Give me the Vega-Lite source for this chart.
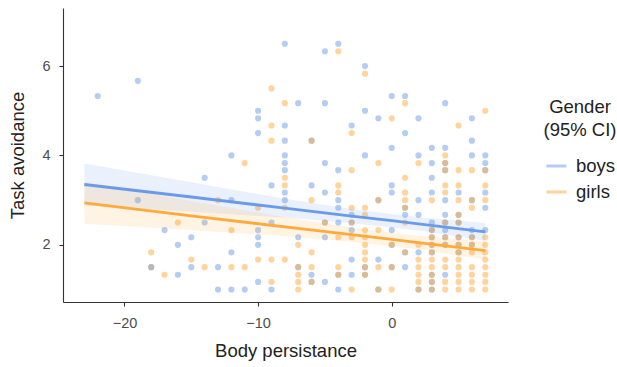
{
  "$schema": "https://vega.github.io/schema/vega-lite/v6.json",
  "width": 445,
  "height": 294,
  "autosize": "none",
  "padding": {"left": 63, "top": 8, "right": 109, "bottom": 65},
  "background": "white",
  "config": {
    "view": {"stroke": null},
    "font": "Liberation Sans",
    "axis": {
      "grid": false,
      "domainColor": "#333333",
      "domainWidth": 1.1,
      "tickColor": "#333333",
      "tickWidth": 1.1,
      "tickSize": 4,
      "labelColor": "#4d4d4d",
      "labelFontSize": 14.5,
      "labelFont": "Liberation Sans",
      "titleFont": "Liberation Sans",
      "titleFontSize": 18.5,
      "titleFontWeight": "normal",
      "titleColor": "#222222"
    }
  },
  "datasets": {
    "pts": [
      {"x": -22, "y": 5.33, "g": "boys"},
      {"x": -19, "y": 5.67, "g": "boys"},
      {"x": -19, "y": 3.0, "g": "boys"},
      {"x": -17, "y": 2.33, "g": "boys"},
      {"x": -16, "y": 2.0, "g": "boys"},
      {"x": -16, "y": 1.33, "g": "boys"},
      {"x": -15, "y": 2.17, "g": "boys"},
      {"x": -15, "y": 1.5, "g": "boys"},
      {"x": -14, "y": 3.5, "g": "boys"},
      {"x": -14, "y": 2.5, "g": "boys"},
      {"x": -13, "y": 1.5, "g": "boys"},
      {"x": -13, "y": 1.0, "g": "boys"},
      {"x": -12, "y": 4.0, "g": "boys"},
      {"x": -12, "y": 3.0, "g": "boys"},
      {"x": -12, "y": 1.83, "g": "boys"},
      {"x": -12, "y": 1.0, "g": "boys"},
      {"x": -11, "y": 1.0, "g": "boys"},
      {"x": -10, "y": 5.0, "g": "boys"},
      {"x": -10, "y": 4.83, "g": "boys"},
      {"x": -10, "y": 4.5, "g": "boys"},
      {"x": -10, "y": 2.33, "g": "boys"},
      {"x": -10, "y": 2.17, "g": "boys"},
      {"x": -10, "y": 2.0, "g": "boys"},
      {"x": -10, "y": 1.17, "g": "boys"},
      {"x": -9, "y": 3.33, "g": "boys"},
      {"x": -9, "y": 2.5, "g": "boys"},
      {"x": -9, "y": 1.0, "g": "boys"},
      {"x": -8, "y": 6.5, "g": "boys"},
      {"x": -8, "y": 4.67, "g": "boys"},
      {"x": -8, "y": 4.33, "g": "boys"},
      {"x": -8, "y": 4.0, "g": "boys"},
      {"x": -8, "y": 3.83, "g": "boys"},
      {"x": -8, "y": 3.67, "g": "boys"},
      {"x": -8, "y": 3.17, "g": "boys"},
      {"x": -8, "y": 3.0, "g": "boys"},
      {"x": -7, "y": 5.17, "g": "boys"},
      {"x": -7, "y": 2.17, "g": "boys"},
      {"x": -7, "y": 1.5, "g": "boys"},
      {"x": -6, "y": 4.33, "g": "boys"},
      {"x": -6, "y": 3.33, "g": "boys"},
      {"x": -6, "y": 1.33, "g": "boys"},
      {"x": -6, "y": 1.17, "g": "boys"},
      {"x": -5, "y": 6.33, "g": "boys"},
      {"x": -5, "y": 5.17, "g": "boys"},
      {"x": -5, "y": 3.83, "g": "boys"},
      {"x": -5, "y": 3.17, "g": "boys"},
      {"x": -5, "y": 2.5, "g": "boys"},
      {"x": -5, "y": 2.17, "g": "boys"},
      {"x": -5, "y": 1.17, "g": "boys"},
      {"x": -4, "y": 6.5, "g": "boys"},
      {"x": -4, "y": 3.67, "g": "boys"},
      {"x": -4, "y": 3.0, "g": "boys"},
      {"x": -4, "y": 2.83, "g": "boys"},
      {"x": -4, "y": 2.5, "g": "boys"},
      {"x": -4, "y": 1.33, "g": "boys"},
      {"x": -4, "y": 1.0, "g": "boys"},
      {"x": -3, "y": 4.67, "g": "boys"},
      {"x": -3, "y": 2.67, "g": "boys"},
      {"x": -3, "y": 2.5, "g": "boys"},
      {"x": -3, "y": 2.33, "g": "boys"},
      {"x": -3, "y": 1.67, "g": "boys"},
      {"x": -3, "y": 1.33, "g": "boys"},
      {"x": -2, "y": 6.0, "g": "boys"},
      {"x": -2, "y": 5.0, "g": "boys"},
      {"x": -2, "y": 4.0, "g": "boys"},
      {"x": -2, "y": 1.5, "g": "boys"},
      {"x": -2, "y": 1.33, "g": "boys"},
      {"x": -1, "y": 4.83, "g": "boys"},
      {"x": -1, "y": 3.0, "g": "boys"},
      {"x": -1, "y": 1.67, "g": "boys"},
      {"x": -1, "y": 1.0, "g": "boys"},
      {"x": 0, "y": 5.33, "g": "boys"},
      {"x": 0, "y": 4.17, "g": "boys"},
      {"x": 0, "y": 3.33, "g": "boys"},
      {"x": 0, "y": 3.17, "g": "boys"},
      {"x": 0, "y": 2.33, "g": "boys"},
      {"x": 0, "y": 2.0, "g": "boys"},
      {"x": 0, "y": 1.5, "g": "boys"},
      {"x": 1, "y": 5.33, "g": "boys"},
      {"x": 1, "y": 4.5, "g": "boys"},
      {"x": 1, "y": 2.83, "g": "boys"},
      {"x": 1, "y": 2.67, "g": "boys"},
      {"x": 1, "y": 1.83, "g": "boys"},
      {"x": 1, "y": 1.5, "g": "boys"},
      {"x": 2, "y": 4.83, "g": "boys"},
      {"x": 2, "y": 4.0, "g": "boys"},
      {"x": 2, "y": 3.0, "g": "boys"},
      {"x": 2, "y": 2.67, "g": "boys"},
      {"x": 2, "y": 1.83, "g": "boys"},
      {"x": 2, "y": 1.0, "g": "boys"},
      {"x": 3, "y": 4.17, "g": "boys"},
      {"x": 3, "y": 3.83, "g": "boys"},
      {"x": 3, "y": 3.5, "g": "boys"},
      {"x": 3, "y": 3.17, "g": "boys"},
      {"x": 3, "y": 2.5, "g": "boys"},
      {"x": 3, "y": 2.33, "g": "boys"},
      {"x": 3, "y": 2.17, "g": "boys"},
      {"x": 3, "y": 2.0, "g": "boys"},
      {"x": 3, "y": 1.83, "g": "boys"},
      {"x": 3, "y": 1.33, "g": "boys"},
      {"x": 3, "y": 1.17, "g": "boys"},
      {"x": 3, "y": 1.0, "g": "boys"},
      {"x": 4, "y": 5.17, "g": "boys"},
      {"x": 4, "y": 4.17, "g": "boys"},
      {"x": 4, "y": 3.83, "g": "boys"},
      {"x": 4, "y": 3.67, "g": "boys"},
      {"x": 4, "y": 3.0, "g": "boys"},
      {"x": 4, "y": 2.67, "g": "boys"},
      {"x": 4, "y": 2.5, "g": "boys"},
      {"x": 4, "y": 2.33, "g": "boys"},
      {"x": 4, "y": 2.17, "g": "boys"},
      {"x": 4, "y": 2.0, "g": "boys"},
      {"x": 4, "y": 1.33, "g": "boys"},
      {"x": 5, "y": 3.17, "g": "boys"},
      {"x": 5, "y": 2.67, "g": "boys"},
      {"x": 5, "y": 2.5, "g": "boys"},
      {"x": 5, "y": 2.17, "g": "boys"},
      {"x": 5, "y": 2.0, "g": "boys"},
      {"x": 5, "y": 1.83, "g": "boys"},
      {"x": 6, "y": 4.83, "g": "boys"},
      {"x": 6, "y": 4.33, "g": "boys"},
      {"x": 6, "y": 4.0, "g": "boys"},
      {"x": 6, "y": 3.0, "g": "boys"},
      {"x": 6, "y": 2.33, "g": "boys"},
      {"x": 6, "y": 2.17, "g": "boys"},
      {"x": 6, "y": 2.0, "g": "boys"},
      {"x": 7, "y": 4.0, "g": "boys"},
      {"x": 7, "y": 3.83, "g": "boys"},
      {"x": 7, "y": 3.67, "g": "boys"},
      {"x": 7, "y": 3.17, "g": "boys"},
      {"x": 7, "y": 2.83, "g": "boys"},
      {"x": 7, "y": 2.33, "g": "boys"},
      {"x": -18, "y": 1.83, "g": "girls"},
      {"x": -18, "y": 1.5, "g": "girls"},
      {"x": -18, "y": 1.5, "g": "boys"},
      {"x": -17, "y": 1.33, "g": "girls"},
      {"x": -16, "y": 2.5, "g": "girls"},
      {"x": -15, "y": 1.67, "g": "girls"},
      {"x": -14, "y": 1.5, "g": "girls"},
      {"x": -13, "y": 3.0, "g": "girls"},
      {"x": -12, "y": 2.33, "g": "girls"},
      {"x": -12, "y": 1.5, "g": "girls"},
      {"x": -11, "y": 3.83, "g": "girls"},
      {"x": -11, "y": 1.5, "g": "girls"},
      {"x": -10, "y": 2.83, "g": "girls"},
      {"x": -10, "y": 1.67, "g": "girls"},
      {"x": -9, "y": 5.5, "g": "girls"},
      {"x": -9, "y": 4.67, "g": "girls"},
      {"x": -9, "y": 4.33, "g": "girls"},
      {"x": -9, "y": 1.67, "g": "girls"},
      {"x": -9, "y": 1.17, "g": "girls"},
      {"x": -8, "y": 5.17, "g": "girls"},
      {"x": -8, "y": 3.5, "g": "girls"},
      {"x": -8, "y": 3.33, "g": "girls"},
      {"x": -8, "y": 2.83, "g": "girls"},
      {"x": -8, "y": 1.67, "g": "girls"},
      {"x": -7, "y": 2.0, "g": "girls"},
      {"x": -7, "y": 1.5, "g": "girls"},
      {"x": -7, "y": 1.33, "g": "girls"},
      {"x": -7, "y": 1.17, "g": "girls"},
      {"x": -7, "y": 1.0, "g": "girls"},
      {"x": -6, "y": 4.33, "g": "girls"},
      {"x": -6, "y": 3.0, "g": "girls"},
      {"x": -6, "y": 1.83, "g": "girls"},
      {"x": -6, "y": 1.5, "g": "girls"},
      {"x": -6, "y": 1.17, "g": "girls"},
      {"x": -5, "y": 2.5, "g": "girls"},
      {"x": -4, "y": 6.33, "g": "girls"},
      {"x": -4, "y": 3.33, "g": "girls"},
      {"x": -4, "y": 3.17, "g": "girls"},
      {"x": -4, "y": 2.17, "g": "girls"},
      {"x": -4, "y": 1.5, "g": "girls"},
      {"x": -4, "y": 1.33, "g": "girls"},
      {"x": -3, "y": 4.5, "g": "girls"},
      {"x": -3, "y": 3.67, "g": "girls"},
      {"x": -3, "y": 2.83, "g": "girls"},
      {"x": -3, "y": 2.5, "g": "girls"},
      {"x": -3, "y": 2.17, "g": "girls"},
      {"x": -3, "y": 1.0, "g": "girls"},
      {"x": -2, "y": 5.83, "g": "girls"},
      {"x": -2, "y": 2.83, "g": "girls"},
      {"x": -2, "y": 2.67, "g": "girls"},
      {"x": -2, "y": 2.33, "g": "girls"},
      {"x": -2, "y": 2.17, "g": "girls"},
      {"x": -2, "y": 2.0, "g": "girls"},
      {"x": -2, "y": 1.83, "g": "girls"},
      {"x": -2, "y": 1.67, "g": "girls"},
      {"x": -2, "y": 1.5, "g": "girls"},
      {"x": -2, "y": 1.33, "g": "girls"},
      {"x": -1, "y": 3.83, "g": "girls"},
      {"x": -1, "y": 3.0, "g": "girls"},
      {"x": -1, "y": 2.33, "g": "girls"},
      {"x": -1, "y": 1.5, "g": "girls"},
      {"x": -1, "y": 1.0, "g": "girls"},
      {"x": 0, "y": 4.83, "g": "girls"},
      {"x": 0, "y": 2.0, "g": "girls"},
      {"x": 0, "y": 1.5, "g": "girls"},
      {"x": 0, "y": 1.0, "g": "girls"},
      {"x": 1, "y": 5.17, "g": "girls"},
      {"x": 1, "y": 3.5, "g": "girls"},
      {"x": 1, "y": 3.17, "g": "girls"},
      {"x": 1, "y": 3.0, "g": "girls"},
      {"x": 1, "y": 2.83, "g": "girls"},
      {"x": 1, "y": 2.5, "g": "girls"},
      {"x": 1, "y": 1.83, "g": "girls"},
      {"x": 2, "y": 3.83, "g": "girls"},
      {"x": 2, "y": 2.0, "g": "girls"},
      {"x": 2, "y": 1.67, "g": "girls"},
      {"x": 2, "y": 1.5, "g": "girls"},
      {"x": 2, "y": 1.33, "g": "girls"},
      {"x": 2, "y": 1.17, "g": "girls"},
      {"x": 2, "y": 1.0, "g": "girls"},
      {"x": 3, "y": 3.0, "g": "girls"},
      {"x": 3, "y": 2.33, "g": "girls"},
      {"x": 3, "y": 2.17, "g": "girls"},
      {"x": 3, "y": 2.0, "g": "girls"},
      {"x": 3, "y": 1.83, "g": "girls"},
      {"x": 3, "y": 1.67, "g": "girls"},
      {"x": 3, "y": 1.5, "g": "girls"},
      {"x": 3, "y": 1.33, "g": "girls"},
      {"x": 3, "y": 1.17, "g": "girls"},
      {"x": 3, "y": 1.0, "g": "girls"},
      {"x": 4, "y": 4.0, "g": "girls"},
      {"x": 4, "y": 3.83, "g": "girls"},
      {"x": 4, "y": 3.67, "g": "girls"},
      {"x": 4, "y": 3.33, "g": "girls"},
      {"x": 4, "y": 3.17, "g": "girls"},
      {"x": 4, "y": 2.5, "g": "girls"},
      {"x": 4, "y": 2.17, "g": "girls"},
      {"x": 4, "y": 2.0, "g": "girls"},
      {"x": 4, "y": 1.67, "g": "girls"},
      {"x": 4, "y": 1.5, "g": "girls"},
      {"x": 4, "y": 1.17, "g": "girls"},
      {"x": 4, "y": 1.0, "g": "girls"},
      {"x": 5, "y": 4.67, "g": "girls"},
      {"x": 5, "y": 3.67, "g": "girls"},
      {"x": 5, "y": 3.33, "g": "girls"},
      {"x": 5, "y": 3.0, "g": "girls"},
      {"x": 5, "y": 2.67, "g": "girls"},
      {"x": 5, "y": 2.5, "g": "girls"},
      {"x": 5, "y": 2.17, "g": "girls"},
      {"x": 5, "y": 2.0, "g": "girls"},
      {"x": 5, "y": 1.83, "g": "girls"},
      {"x": 5, "y": 1.67, "g": "girls"},
      {"x": 5, "y": 1.5, "g": "girls"},
      {"x": 5, "y": 1.33, "g": "girls"},
      {"x": 5, "y": 1.17, "g": "girls"},
      {"x": 5, "y": 1.0, "g": "girls"},
      {"x": 6, "y": 3.67, "g": "girls"},
      {"x": 6, "y": 3.0, "g": "girls"},
      {"x": 6, "y": 2.83, "g": "girls"},
      {"x": 6, "y": 2.17, "g": "girls"},
      {"x": 6, "y": 2.0, "g": "girls"},
      {"x": 6, "y": 1.83, "g": "girls"},
      {"x": 6, "y": 1.5, "g": "girls"},
      {"x": 6, "y": 1.33, "g": "girls"},
      {"x": 6, "y": 1.17, "g": "girls"},
      {"x": 6, "y": 1.0, "g": "girls"},
      {"x": 7, "y": 5.0, "g": "girls"},
      {"x": 7, "y": 3.67, "g": "girls"},
      {"x": 7, "y": 3.33, "g": "girls"},
      {"x": 7, "y": 3.0, "g": "girls"},
      {"x": 7, "y": 2.17, "g": "girls"},
      {"x": 7, "y": 2.0, "g": "girls"},
      {"x": 7, "y": 1.83, "g": "girls"},
      {"x": 7, "y": 1.67, "g": "girls"},
      {"x": 7, "y": 1.5, "g": "girls"},
      {"x": 7, "y": 1.33, "g": "girls"},
      {"x": 7, "y": 1.17, "g": "girls"},
      {"x": 7, "y": 1.0, "g": "girls"}
    ],
    "fit": [
      {"g": "boys", "x": -23, "fit": 3.35, "lo": 2.88, "hi": 3.82},
      {"g": "boys", "x": -15, "fit": 3.07, "lo": 2.74, "hi": 3.40},
      {"g": "boys", "x": -8, "fit": 2.82, "lo": 2.61, "hi": 3.03},
      {"g": "boys", "x": -3, "fit": 2.64, "lo": 2.48, "hi": 2.80},
      {"g": "boys", "x": 0, "fit": 2.54, "lo": 2.39, "hi": 2.69},
      {"g": "boys", "x": 2, "fit": 2.47, "lo": 2.32, "hi": 2.62},
      {"g": "boys", "x": 7, "fit": 2.29, "lo": 2.09, "hi": 2.49},
      {"g": "girls", "x": -23, "fit": 2.94, "lo": 2.47, "hi": 3.41},
      {"g": "girls", "x": -15, "fit": 2.65, "lo": 2.33, "hi": 2.98},
      {"g": "girls", "x": -8, "fit": 2.40, "lo": 2.19, "hi": 2.62},
      {"g": "girls", "x": -3, "fit": 2.23, "lo": 2.07, "hi": 2.39},
      {"g": "girls", "x": 0, "fit": 2.12, "lo": 1.97, "hi": 2.27},
      {"g": "girls", "x": 2, "fit": 2.05, "lo": 1.90, "hi": 2.20},
      {"g": "girls", "x": 7, "fit": 1.87, "lo": 1.67, "hi": 2.07}
    ]
  },
  "layer": [
    {
      "data": {"name": "pts"},
      "mark": {"type": "circle", "size": 38, "opacity": 0.5},
      "encoding": {
        "x": {"field": "x", "type": "quantitative"},
        "y": {"field": "y", "type": "quantitative"},
        "color": {"field": "g", "type": "nominal"}
      }
    },
    {
      "data": {"name": "fit"},
      "mark": {"type": "area", "opacity": 0.14},
      "encoding": {
        "x": {"field": "x", "type": "quantitative"},
        "y": {"field": "lo", "type": "quantitative"},
        "y2": {"field": "hi"},
        "color": {"field": "g", "type": "nominal"}
      }
    },
    {
      "data": {"name": "fit"},
      "mark": {"type": "line", "strokeWidth": 2.8},
      "encoding": {
        "x": {
          "field": "x", "type": "quantitative",
          "scale": {"domain": [-24.6, 8.7], "nice": false, "zero": false},
          "axis": {"values": [-20, -10, 0], "title": "Body persistance", "labelPadding": 10, "titlePadding": 12}
        },
        "y": {
          "field": "fit", "type": "quantitative",
          "scale": {"domain": [0.72, 7.3], "nice": false, "zero": false},
          "axis": {"values": [2, 4, 6], "title": "Task avoidance", "labelPadding": 9, "titlePadding": 14}
        },
        "color": {
          "field": "g", "type": "nominal",
          "scale": {"domain": ["boys", "girls"], "range": ["#6b9be8", "#ffaa3b"]},
          "legend": {
            "title": ["Gender", "(95% CI)"],
            "orient": "none",
            "legendX": 481,
            "legendY": 90,
            "titleFontSize": 18.5,
            "titleFont": "Liberation Sans",
            "titleFontWeight": "normal",
            "titleColor": "#222222",
            "titleAlign": "center",
            "titleAnchor": "middle",
            "titleLineHeight": 23,
            "titlePadding": 15,
            "labelFontSize": 18.5,
            "labelFont": "Liberation Sans",
            "labelColor": "#222222",
            "symbolType": "stroke",
            "symbolStrokeWidth": 3,
            "symbolSize": 400,
            "symbolOpacity": 1,
            "rowPadding": 5,
            "labelOffset": 8
          }
        }
      }
    }
  ]
}
